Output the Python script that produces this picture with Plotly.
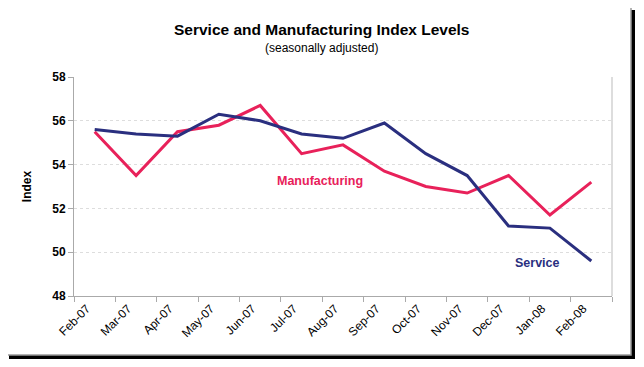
import plotly.graph_objects as go

months = ["Feb-07", "Mar-07", "Apr-07", "May-07", "Jun-07", "Jul-07", "Aug-07",
          "Sep-07", "Oct-07", "Nov-07", "Dec-07", "Jan-08", "Feb-08"]
service = [55.6, 55.4, 55.3, 56.3, 56.0, 55.4, 55.2, 55.9, 54.5, 53.5, 51.2, 51.1, 49.6]
manufacturing = [55.5, 53.5, 55.5, 55.8, 56.7, 54.5, 54.9, 53.7, 53.0, 52.7, 53.5, 51.7, 53.2]
y_ticks = [48, 50, 52, 54, 56, 58]

# page has an 8px body margin; work in page pixels and convert
OFF = 8
W, H = 644 - 2 * OFF, 367 - 2 * OFF
L, R, T, B = 74 - OFF, 644 - 612 - OFF, 77 - OFF, 367 - 296 - OFF
pw, ph = W - L - R, H - T - B

def px(x):
    return (x - OFF - L) / pw

def py(y):
    return (H - B - (y - OFF)) / ph

navy = "#2A2F7F"
crimson = "#E8215A"
font = "Liberation Sans, Arial, sans-serif"

fig = go.Figure()
fig.add_trace(go.Scatter(x=months, y=manufacturing, mode="lines", name="Manufacturing",
                         line=dict(color=crimson, width=3)))
fig.add_trace(go.Scatter(x=months, y=service, mode="lines", name="Service",
                         line=dict(color=navy, width=3)))

shapes = [
    dict(type="rect", xref="paper", yref="paper", x0=px(9), x1=px(635), y0=py(359), y1=py(10),
         fillcolor="black", line=dict(width=0), layer="below"),
    dict(type="rect", xref="paper", yref="paper", x0=px(6), x1=px(631), y0=py(355), y1=py(7),
         fillcolor="white", line=dict(color="#999999", width=1.5), layer="below"),
    dict(type="line", xref="paper", yref="paper", x0=1, x1=1, y0=0, y1=1,
         line=dict(color="#BBBBBB", width=1)),
]

fig.update_layout(
    width=W, height=H,
    margin=dict(l=L, r=R, t=T, b=B),
    paper_bgcolor="white", plot_bgcolor="rgba(0,0,0,0)",
    showlegend=False,
    font=dict(family=font, color="black"),
    shapes=shapes,
    annotations=[
        dict(text="<b>Service and Manufacturing Index Levels</b>", xref="paper", yref="paper",
             x=px(321), y=py(30), showarrow=False, font=dict(size=15.5, color="black"),
             xanchor="center", yanchor="middle"),
        dict(text="(seasonally adjusted)", xref="paper", yref="paper",
             x=px(321), y=py(48), showarrow=False, font=dict(size=12, color="black"),
             xanchor="center", yanchor="middle"),
        dict(text="<b>Manufacturing</b>", xref="paper", yref="paper",
             x=px(320), y=py(181), showarrow=False, font=dict(size=12.5, color=crimson),
             xanchor="center", yanchor="middle"),
        dict(text="<b>Service</b>", xref="paper", yref="paper",
             x=px(537), y=py(263), showarrow=False, font=dict(size=12.5, color=navy),
             xanchor="center", yanchor="middle"),
    ],
    xaxis=dict(
        type="category", categoryorder="array", categoryarray=months,
        range=[-0.5, len(months) - 0.5], automargin=False,
        showgrid=False, showline=True, linecolor="#AAAAAA", linewidth=1,
        ticks="outside", tickson="boundaries", ticklen=5, tickcolor="#AAAAAA",
        tickangle=-45, tickfont=dict(size=12, family=font, color="black"),
        ticklabelshift=-8,
        zeroline=False,
    ),
    yaxis=dict(
        range=[48, 58], tickvals=y_ticks, ticktext=[f"<b>{v}</b>" for v in y_ticks],
        automargin=False,
        showgrid=True, gridcolor="#DDDDDD", griddash="dot", gridwidth=1,
        showline=True, linecolor="#AAAAAA", linewidth=1,
        ticks="outside", ticklen=5, tickcolor="#AAAAAA",
        tickfont=dict(size=12, family=font, color="black"),
        title=dict(text="<b>Index</b>", font=dict(size=12, family=font), standoff=18),
        zeroline=False,
    ),
)

fig.write_html("out.html")
